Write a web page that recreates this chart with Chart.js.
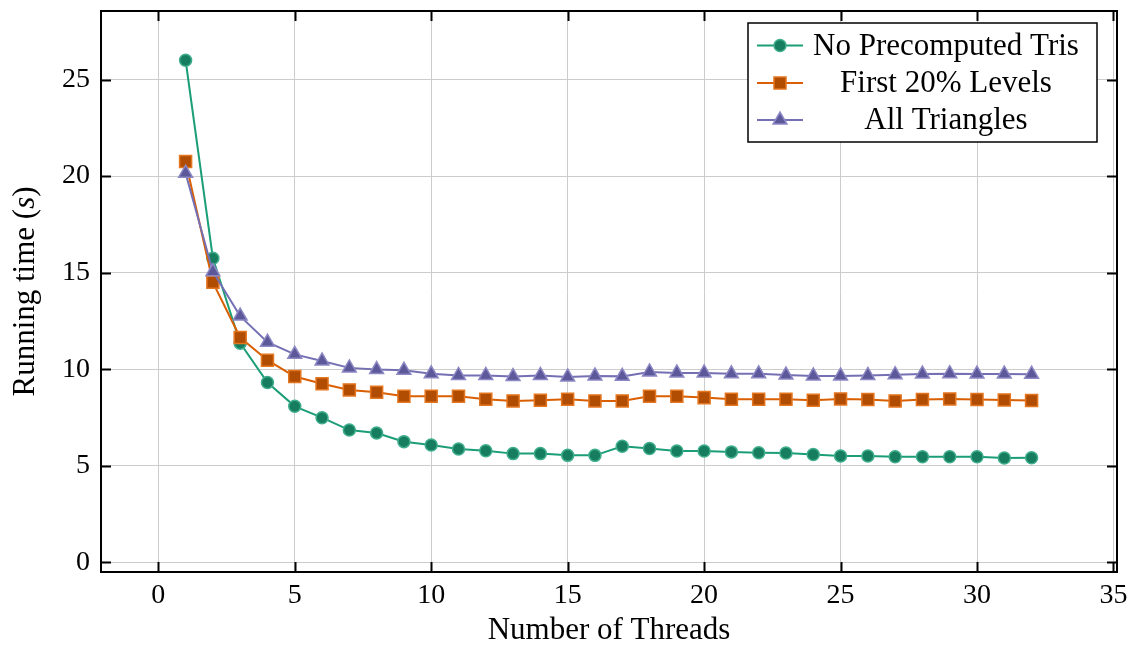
<!DOCTYPE html>
<html>
<head>
<meta charset="utf-8">
<script src="https://cdn.jsdelivr.net/npm/chart.js@4.4.0/dist/chart.umd.min.js"></script>
<style>
  body { margin: 0; background: #fff; }
  #wrap { width: 1136px; height: 648px; }
</style>
</head>
<body>
<div id="wrap"><canvas id="chart" width="1136" height="648"></canvas></div>
<script>
// Data
const threads = [1, 2, 3, 4, 5, 6, 7, 8, 9, 10, 11, 12, 13, 14, 15, 16,
                 17, 18, 19, 20, 21, 22, 23, 24, 25, 26, 27, 28, 29, 30, 31, 32];
const noPrecomputed = [26.0, 15.75, 11.35, 9.31, 8.08, 7.49, 6.85, 6.70, 6.25, 6.08, 5.87, 5.78,
                       5.63, 5.63, 5.54, 5.54, 6.01, 5.89, 5.77, 5.77, 5.72, 5.68, 5.66, 5.58,
                       5.51, 5.51, 5.47, 5.47, 5.47, 5.47, 5.40, 5.42];
const first20 = [20.76, 14.5, 11.64, 10.47, 9.62, 9.25, 8.93, 8.81, 8.6, 8.6, 8.6, 8.44,
                 8.36, 8.39, 8.44, 8.36, 8.36, 8.6, 8.6, 8.53, 8.44, 8.44, 8.44, 8.39,
                 8.46, 8.43, 8.36, 8.43, 8.46, 8.43, 8.41, 8.38];
const allTriangles = [20.15, 15.05, 12.75, 11.4, 10.77, 10.43, 10.07, 9.98, 9.95, 9.76, 9.68, 9.68,
                      9.62, 9.68, 9.6, 9.65, 9.63, 9.86, 9.81, 9.81, 9.76, 9.76, 9.7, 9.65,
                      9.65, 9.68, 9.72, 9.75, 9.77, 9.75, 9.75, 9.74];
const seriesNames = ['No Precomputed Tris', 'First 20% Levels', 'All Triangles'];
const xTicks = [0, 5, 10, 15, 20, 25, 30, 35];
const yTicks = [0, 5, 10, 15, 20, 25];

const FONT = '"Liberation Serif", "Times New Roman", serif';

function pts(values) {
    return threads.map((t, i) => ({ x: t, y: values[i] }));
}

// frame with inward ticks on all four sides
const frameTicks = {
    id: 'frameTicks',
    afterDraw(chart) {
        const { ctx, chartArea: a, scales } = chart;
        ctx.save();
        ctx.strokeStyle = '#000';
        ctx.lineWidth = 2;
        const len = 10;
        ctx.beginPath();
        xTicks.forEach(v => {
            const px = Math.round(scales.x.getPixelForValue(v)) + 0.5;
            ctx.moveTo(px, a.bottom); ctx.lineTo(px, a.bottom - len);
            ctx.moveTo(px, a.top); ctx.lineTo(px, a.top + len);
        });
        yTicks.forEach(v => {
            const py = Math.round(scales.y.getPixelForValue(v)) + 0.5;
            ctx.moveTo(a.left, py); ctx.lineTo(a.left + len, py);
            ctx.moveTo(a.right, py); ctx.lineTo(a.right - len, py);
        });
        ctx.stroke();
        ctx.strokeRect(a.left, a.top, a.right - a.left, a.bottom - a.top);
        ctx.restore();
    }
};

// axis titles (y title needs an italic s)
const axisTitles = {
    id: 'axisTitles',
    afterDraw(chart) {
        const { ctx, chartArea: a } = chart;
        ctx.save();
        ctx.fillStyle = '#000';
        ctx.textBaseline = 'middle';
        ctx.textAlign = 'center';
        ctx.font = '31px ' + FONT;
        ctx.fillText('Number of Threads', (a.left + a.right) / 2, 631);

        const parts = [['Running time (', ''], ['s', 'italic '], [')', '']];
        let total = 0;
        parts.forEach(p => { ctx.font = p[1] + '31px ' + FONT; total += ctx.measureText(p[0]).width; });
        ctx.translate(26, (a.top + a.bottom) / 2);
        ctx.rotate(-Math.PI / 2);
        ctx.textAlign = 'left';
        let x = -total / 2;
        parts.forEach(p => {
            ctx.font = p[1] + '31px ' + FONT;
            ctx.fillText(p[0], x, 0);
            x += ctx.measureText(p[0]).width;
        });
        ctx.restore();
    }
};

function drawMarker(ctx, style, r, x, y) {
    if (style === 'circle') {
        ctx.arc(x, y, r, 0, Math.PI * 2);
    } else if (style === 'rect') {
        const s = Math.SQRT1_2 * r;
        ctx.rect(x - s, y - s, 2 * s, 2 * s);
    } else {
        ctx.moveTo(x, y - r);
        ctx.lineTo(x - r * Math.sin(Math.PI / 3), y + r / 2);
        ctx.lineTo(x + r * Math.sin(Math.PI / 3), y + r / 2);
        ctx.closePath();
    }
}

// legend box inside the plot, top right
const boxLegend = {
    id: 'boxLegend',
    afterDraw(chart) {
        const { ctx } = chart;
        const left = 748, top = 23, right = 1097, bottom = 142;
        const rows = [45.5, 83, 120];
        ctx.save();
        ctx.fillStyle = '#fff';
        ctx.fillRect(left, top, right - left, bottom - top);
        ctx.strokeStyle = '#000';
        ctx.lineWidth = 1.5;
        ctx.strokeRect(left, top, right - left, bottom - top);
        chart.data.datasets.forEach((ds, i) => {
            const y = rows[i];
            ctx.strokeStyle = ds.borderColor;
            ctx.lineWidth = 2;
            ctx.beginPath();
            ctx.moveTo(757, y); ctx.lineTo(803, y);
            ctx.stroke();
            ctx.fillStyle = ds.pointBackgroundColor;
            ctx.strokeStyle = ds.pointBorderColor;
            ctx.lineWidth = ds.pointBorderWidth;
            ctx.beginPath();
            drawMarker(ctx, ds.pointStyle, ds.pointRadius, 780, y);
            ctx.fill(); ctx.stroke();
            ctx.fillStyle = '#000';
            ctx.font = '31px ' + FONT;
            ctx.textAlign = 'center';
            ctx.textBaseline = 'middle';
            ctx.fillText(seriesNames[i], 946, y + 1);
        });
        ctx.restore();
    }
};

new Chart(document.getElementById('chart'), {
    type: 'line',
    data: {
        datasets: [
            {
                label: seriesNames[0],
                data: pts(noPrecomputed),
                borderColor: '#1b9e77',
                pointBackgroundColor: '#177d5f',
                pointBorderColor: '#3fae8c',
                pointStyle: 'circle',
                pointRadius: 6,
                pointBorderWidth: 1.5,
                order: 3
            },
            {
                label: seriesNames[1],
                data: pts(first20),
                borderColor: '#d95f02',
                pointBackgroundColor: '#b04d03',
                pointBorderColor: '#e57620',
                pointStyle: 'rect',
                pointRadius: 8.5,
                pointBorderWidth: 1.5,
                order: 2
            },
            {
                label: seriesNames[2],
                data: pts(allTriangles),
                borderColor: '#7570b3',
                pointBackgroundColor: '#5d5899',
                pointBorderColor: '#8c88c4',
                pointStyle: 'triangle',
                pointRadius: 8,
                pointBorderWidth: 1.5,
                order: 1
            }
        ]
    },
    options: {
        responsive: false,
        animation: false,
        events: [],
        layout: { padding: { top: 11, right: 19, left: 0, bottom: 0 } },
        elements: {
            line: { borderWidth: 2, tension: 0, fill: false },
            point: { hoverRadius: 6 }
        },
        plugins: {
            legend: { display: false },
            tooltip: { enabled: false }
        },
        scales: {
            x: {
                type: 'linear',
                min: -2.1,
                max: 35.13,
                afterBuildTicks: scale => { scale.ticks = xTicks.map(v => ({ value: v })); },
                afterFit: scale => {
                    scale.height = 76;
                    scale.paddingLeft = 0; scale.paddingRight = 0;
                },
                grid: { color: '#cccccc', lineWidth: 1, drawTicks: false },
                border: { display: false },
                ticks: { color: '#000', font: { family: FONT, size: 28 }, padding: 7, maxRotation: 0 }
            },
            y: {
                type: 'linear',
                min: -0.5,
                max: 28.55,
                afterBuildTicks: scale => { scale.ticks = yTicks.map(v => ({ value: v })); },
                afterFit: scale => {
                    scale.width = 101;
                    scale.paddingTop = 0; scale.paddingBottom = 0;
                },
                grid: { color: '#cccccc', lineWidth: 1, drawTicks: false },
                border: { display: false },
                ticks: { color: '#000', font: { family: FONT, size: 28 }, padding: 11 }
            }
        }
    },
    plugins: [frameTicks, axisTitles, boxLegend]
});
</script>
</body>
</html>
